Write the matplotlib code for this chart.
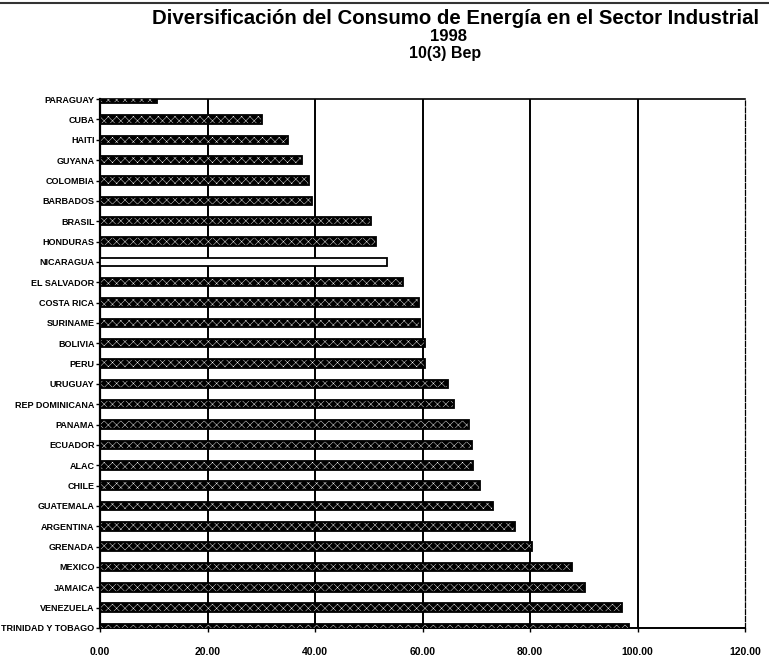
import matplotlib.pyplot as plt
from matplotlib.lines import Line2D

plt.rcParams['font.family'] = ['Liberation Sans', 'DejaVu Sans']

# orden de arriba hacia abajo, como aparece en el grafico
paises = ['PARAGUAY', 'CUBA', 'HAITI', 'GUYANA', 'COLOMBIA', 'BARBADOS', 'BRASIL',
          'HONDURAS', 'NICARAGUA', 'EL SALVADOR', 'COSTA RICA', 'SURINAME', 'BOLIVIA',
          'PERU', 'URUGUAY', 'REP DOMINICANA', 'PANAMA', 'ECUADOR', 'ALAC', 'CHILE',
          'GUATEMALA', 'ARGENTINA', 'GRENADA', 'MEXICO', 'JAMAICA', 'VENEZUELA',
          'TRINIDAD Y TOBAGO']
valores = [10.7, 30.1, 35.0, 37.5, 38.8, 39.4, 50.5,
           51.3, 53.3, 56.4, 59.3, 59.6, 60.4,
           60.5, 64.8, 65.9, 68.6, 69.2, 69.4, 70.7,
           73.1, 77.2, 80.4, 87.8, 90.2, 97.1,
           98.4]
ticks_x = [0, 20, 40, 60, 80, 100, 120]

# se invierte para que Trinidad y Tobago quede abajo
paises = paises[::-1]
valores = valores[::-1]
ypos = list(range(len(paises)))

fig = plt.figure(figsize=(7.69, 6.61), dpi=100)
ax = fig.add_axes([0.130, 0.050, 0.839, 0.800])

relleno = ['white' if p == 'NICARAGUA' else 'black' for p in paises]
ax.barh(ypos, valores, height=0.42, color=relleno, edgecolor='none', zorder=3)
plt.rcParams['hatch.linewidth'] = 0.3
motas = ax.barh(ypos, valores, height=0.42, fill=False, edgecolor='white',
                linewidth=0, hatch='xxxx', zorder=4)
for p, b in zip(paises, motas):
    if p == 'NICARAGUA':
        b.set_hatch(None)
ax.barh(ypos, valores, height=0.42, fill=False, edgecolor='black',
        linewidth=1.3, zorder=5)

ax.set_xlim(0, 120)
ax.set_ylim(0, len(paises) - 1)
ax.set_xticks(ticks_x)
ax.set_xticklabels(['%.2f' % t for t in ticks_x], fontsize=7.5, fontweight='bold')
ax.set_yticks(ypos)
ax.set_yticklabels(paises, fontsize=6.5, fontweight='bold')
ax.tick_params(axis='y', length=3, width=1, pad=1)
ax.tick_params(axis='x', length=3, width=1, pad=11)

for t in ticks_x[1:-1]:
    ax.axvline(t, color='black', lw=1.4, zorder=2)

ax.spines['left'].set_linewidth(1.6)
ax.spines['bottom'].set_linewidth(1.4)
ax.spines['top'].set_linewidth(1.2)
ax.spines['right'].set_linewidth(0.9)
ax.spines['right'].set_linestyle((0, (4, 1.5)))

fig.text(0.592, 0.972, 'Diversificación del Consumo de Energía en el Sector Industrial',
         ha='center', va='center', fontsize=14.7, fontweight='heavy')
fig.text(0.583, 0.945, '1998', ha='center', va='center', fontsize=12, fontweight='heavy')
fig.text(0.579, 0.919, '10(3) Bep', ha='center', va='center', fontsize=11.5,
         fontweight='heavy')

# linea del borde superior de la hoja
fig.add_artist(Line2D([0, 1], [0.996, 0.996], transform=fig.transFigure,
                      color='#333333', lw=1.5))

fig.savefig('out.png', dpi=100)
